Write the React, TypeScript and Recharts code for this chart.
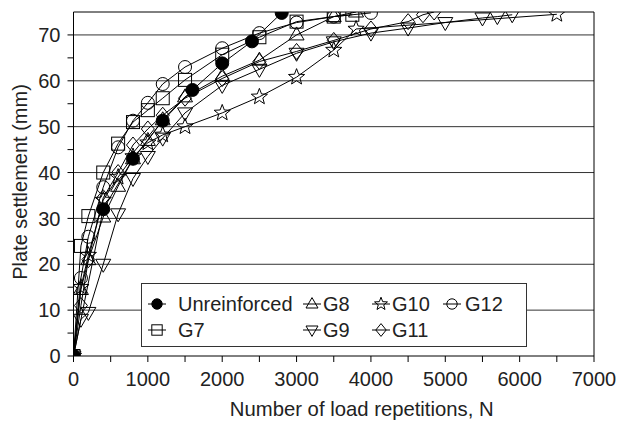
import React from "react";
import { LineChart, Line, XAxis, YAxis, ReferenceLine } from "recharts";

const FONT = '"Liberation Sans", Arial, sans-serif';

// [load repetitions N, plate settlement (mm)]
const unreinforced: [number, number][] = [
  [0, 0], [400, 32], [800, 43], [1200, 51.3], [1600, 58], [2000, 63.8], [2400, 68.6], [2800, 74.8],
];
const g7: [number, number][] = [
  [0, 0], [100, 24], [200, 30.5], [400, 40], [600, 46.3], [800, 51], [1000, 53.6], [1200, 56.2],
  [1500, 60.2], [2000, 65.7], [2500, 69.5], [3000, 72.9], [3500, 74], [3750, 74.4],
];
const g8: [number, number][] = [
  [0, 0], [100, 14.5], [200, 21], [400, 30.3], [600, 37], [800, 43], [1000, 47], [1200, 51.5],
  [1500, 56.5], [2000, 61], [2500, 64.5], [3000, 70], [3500, 74], [3800, 75],
];
const g9: [number, number][] = [
  [0, 0], [100, 8], [200, 9.5], [400, 20], [600, 31], [800, 38.7], [1000, 43.5], [1200, 47.5],
  [1500, 53], [2000, 59], [2500, 62.5], [3000, 66], [3500, 68.5], [4000, 70.4], [4500, 71.5],
  [5000, 72.7], [5500, 73.7], [5700, 74], [5900, 74.4],
];
const g10: [number, number][] = [
  [0, 0], [100, 15], [200, 22], [400, 34], [600, 39], [800, 43.5], [1000, 46.5], [1200, 48.2],
  [1500, 50], [2000, 53], [2500, 56.5], [3000, 60.8], [3500, 66.7], [3800, 71.3], [6500, 74.5],
];
const g11: [number, number][] = [
  [0, 0], [100, 11], [200, 21], [400, 34.5], [600, 40], [800, 46], [1000, 49.5], [1200, 52.5],
  [1500, 56.2], [2000, 60.5], [2500, 64.2], [3000, 66.4], [3500, 68.8], [4000, 71.3], [4500, 72.9],
  [4700, 74.4], [4850, 75],
];
const g12: [number, number][] = [
  [0, 0], [100, 17], [200, 26], [400, 36.8], [600, 45.5], [800, 51.3], [1000, 55.2], [1200, 59.3],
  [1500, 63], [2000, 67.1], [2500, 70.4], [3000, 72.7], [3500, 74], [4000, 74.8],
];

const xTicks = [0, 500, 1000, 1500, 2000, 2500, 3000, 3500, 4000, 4500, 5000, 5500, 6000, 6500, 7000];
const yTicks = [0, 5, 10, 15, 20, 25, 30, 35, 40, 45, 50, 55, 60, 65, 70];
const gridValues = [10, 20, 30, 40, 50, 60, 70];

type Kind = "disc" | "square" | "up" | "down" | "star" | "diamond" | "circle";

const series: { name: string; kind: Kind; pairs: [number, number][] }[] = [
  { name: "Unreinforced", kind: "disc", pairs: unreinforced },
  { name: "G7", kind: "square", pairs: g7 },
  { name: "G8", kind: "up", pairs: g8 },
  { name: "G9", kind: "down", pairs: g9 },
  { name: "G10", kind: "star", pairs: g10 },
  { name: "G11", kind: "diamond", pairs: g11 },
  { name: "G12", kind: "circle", pairs: g12 },
];

function starPoints(cx: number, cy: number, R: number, r: number) {
  const pts: string[] = [];
  for (let i = 0; i < 10; i++) {
    const a = -Math.PI / 2 + (i * Math.PI) / 5;
    const rad = i % 2 === 0 ? R : r;
    pts.push(`${cx + rad * Math.cos(a)},${cy + rad * Math.sin(a)}`);
  }
  return pts.join(" ");
}

function Marker({ kind, cx, cy, k = 1 }: { kind: Kind; cx: number; cy: number; k?: number }) {
  const p = { fill: "none", stroke: "#000", strokeWidth: 1 };
  switch (kind) {
    case "disc":
      return <circle cx={cx} cy={cy} r={6.5 * k} fill="#000" stroke="#000" />;
    case "circle":
      return <circle cx={cx} cy={cy} r={6.5 * k} {...p} />;
    case "square":
      return <rect x={cx - 6.5 * k} y={cy - 6.5 * k} width={13 * k} height={13 * k} {...p} />;
    case "up":
      return (
        <polygon
          points={`${cx},${cy - 8 * k} ${cx - 7.5 * k},${cy + 5 * k} ${cx + 7.5 * k},${cy + 5 * k}`}
          {...p}
        />
      );
    case "down":
      return (
        <polygon
          points={`${cx},${cy + 8 * k} ${cx - 7.5 * k},${cy - 5 * k} ${cx + 7.5 * k},${cy - 5 * k}`}
          {...p}
        />
      );
    case "star":
      return <polygon points={starPoints(cx, cy, 8.5 * k, 3.6 * k)} {...p} />;
    case "diamond":
      return (
        <polygon
          points={`${cx},${cy - 8 * k} ${cx + 6.5 * k},${cy} ${cx},${cy + 8 * k} ${cx - 6.5 * k},${cy}`}
          {...p}
        />
      );
  }
  return null;
}

const YTitle = (props: any) => {
  const vb = props.viewBox || { x: 0, y: 0, width: 0, height: 0 };
  const x = vb.x + 20;
  const y = vb.y + vb.height / 2 - 2;
  return (
    <text
      x={x}
      y={y}
      transform={`rotate(-90 ${x} ${y})`}
      textAnchor="middle"
      dominantBaseline="central"
      fontSize={20}
      fontFamily={FONT}
      fill="#222"
    >
      Plate settlement (mm)
    </text>
  );
};

const XTitle = (props: any) => {
  const vb = props.viewBox || { x: 0, y: 0, width: 0, height: 0 };
  return (
    <text
      x={vb.x + vb.width / 2 + 28}
      y={vb.y + vb.height - 7}
      textAnchor="middle"
      fontSize={20.3}
      fontFamily={FONT}
      fill="#222"
    >
      Number of load repetitions, N
    </text>
  );
};

// legend columns (icon centre, text start), relative to the legend box
const legendCols = [
  { icon: 16, text: 37 },
  { icon: 171, text: 182 },
  { icon: 240, text: 251 },
  { icon: 311, text: 324 },
];
const legendOrder: string[][] = [
  ["Unreinforced", "G7"],
  ["G8", "G9"],
  ["G10", "G11"],
  ["G12"],
];
const legendRows = [21, 47];

function ChartLegend() {
  return (
    <div
      style={{
        position: "absolute",
        left: 141,
        top: 283,
        width: 386,
        height: 64,
        boxSizing: "border-box",
        border: "1px solid #333",
        background: "#fff",
        fontFamily: FONT,
        fontSize: 20,
        color: "#222",
      }}
    >
      {legendOrder.map((col, ci) =>
        col.map((name, ri) => {
          const s = series.find((d) => d.name === name)!;
          const cx = legendCols[ci].icon;
          const cy = legendRows[ri];
          return (
            <React.Fragment key={name}>
              <svg
                width={24}
                height={20}
                style={{ position: "absolute", left: cx - 12 - 1, top: cy - 10 - 1 }}
              >
                <line x1={3} y1={10} x2={21} y2={10} stroke="#000" strokeWidth={1} />
                <Marker kind={s.kind} cx={12} cy={10} k={0.8} />
              </svg>
              <span
                style={{
                  position: "absolute",
                  left: legendCols[ci].text - 1,
                  top: cy - 12 - 1,
                  lineHeight: "24px",
                  whiteSpace: "nowrap",
                }}
              >
                {name}
              </span>
            </React.Fragment>
          );
        })
      )}
    </div>
  );
}

export default function App() {
  return (
    <div style={{ position: "absolute", left: 0, top: 0, width: 620, height: 423, background: "#fff" }}>
      <LineChart width={620} height={423} margin={{ top: 12, right: 26, bottom: 0, left: 0 }}>
        <XAxis
          type="number"
          dataKey="n"
          domain={[0, 7000]}
          ticks={xTicks}
          allowDataOverflow
          interval={0}
          height={67}
          tickSize={6}
          tickMargin={10}
          tickFormatter={(v: number) => (v % 1000 === 0 ? String(v) : "")}
          tick={{ fill: "#222", fontSize: 20, fontFamily: FONT }}
          axisLine={{ stroke: "#000" }}
          tickLine={{ stroke: "#000" }}
          label={{ content: XTitle }}
        />
        <YAxis
          type="number"
          domain={[0, 75]}
          ticks={yTicks}
          allowDataOverflow
          interval={0}
          width={73.5}
          tickSize={6}
          tickMargin={7}
          tickFormatter={(v: number) => (v % 10 === 0 ? String(v) : "")}
          tick={{ fill: "#222", fontSize: 20, fontFamily: FONT }}
          axisLine={{ stroke: "#000" }}
          tickLine={{ stroke: "#000" }}
          label={{ content: YTitle }}
        />
        {gridValues.map((v) => (
          <ReferenceLine key={v} y={v} stroke="#333" strokeWidth={1} />
        ))}
        <ReferenceLine y={75} stroke="#000" />
        <ReferenceLine x={7000} stroke="#000" />
        {series.map((s) => (
          <Line
            key={s.name}
            name={s.name}
            data={s.pairs.map(([n, v]) => ({ n, s: v }))}
            dataKey="s"
            type="linear"
            stroke="#000"
            strokeWidth={1}
            isAnimationActive={false}
            activeDot={false}
            dot={(p: any) => (
              <Marker key={`${s.name}-${p.index}`} kind={s.kind} cx={p.cx} cy={p.cy} />
            )}
          />
        ))}
      </LineChart>
      <ChartLegend />
    </div>
  );
}
